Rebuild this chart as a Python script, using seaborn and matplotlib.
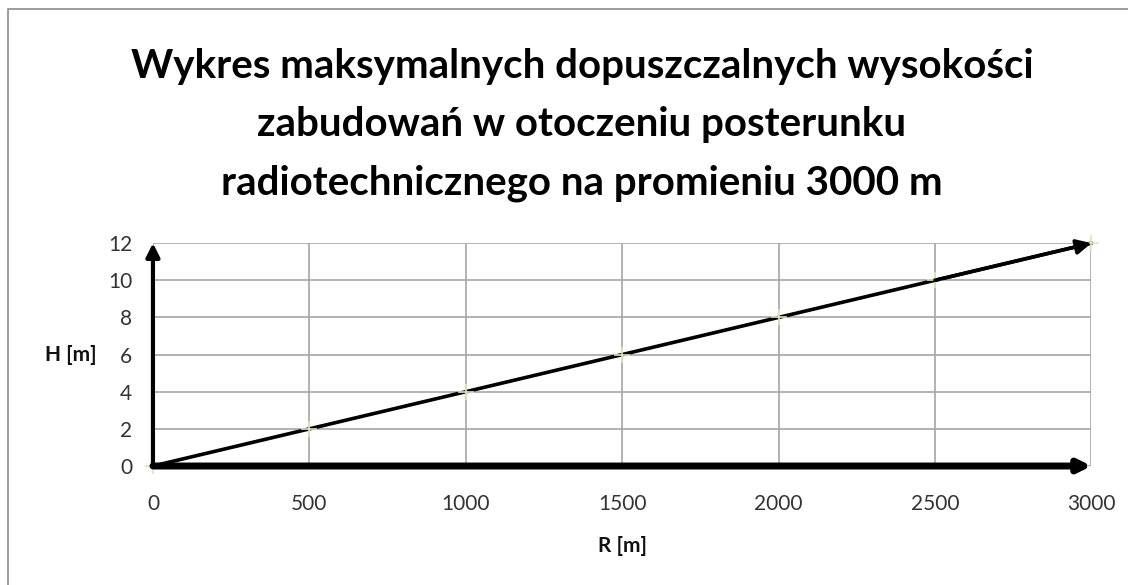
import matplotlib
matplotlib.use('Agg')
import matplotlib.pyplot as plt
import seaborn as sns
import pandas as pd
from matplotlib.patches import Rectangle

# Data
r_values = [0, 500, 1000, 1500, 2000, 2500, 3000]
h_values = [0, 2, 4, 6, 8, 10, 12]
x_ticks = [0, 500, 1000, 1500, 2000, 2500, 3000]
y_ticks = [0, 2, 4, 6, 8, 10, 12]
title = ('Wykres maksymalnych dopuszczalnych wysokości\n'
         'zabudowań w otoczeniu posterunku\n'
         'radiotechnicznego na promieniu 3000 m')

df = pd.DataFrame({'R': r_values, 'H': h_values})

sns.set_theme(style='white')
plt.rcParams['font.family'] = ['Lato', 'DejaVu Sans']

fig = plt.figure(figsize=(11.28, 5.85), dpi=100)
ax = fig.add_axes([0.1356, 0.2034, 0.832, 0.381])

# Outer chart border (left and top visible)
fig.patches.append(Rectangle((8 / 1128, -0.1), 1.2, 1 - 9 / 585 + 0.1,
                             transform=fig.transFigure, fill=False,
                             edgecolor='#8c8c8c', lw=1.2))

sns.lineplot(data=df, x='R', y='H', ax=ax, color='black', lw=2.6,
             marker='+', markersize=12, markeredgecolor='#d8e8c0',
             markeredgewidth=1.2, clip_on=False, zorder=4)
# Arrowhead on the line end
ax.annotate('', xy=(r_values[-1], h_values[-1]),
            xytext=(r_values[-2], h_values[-2]),
            arrowprops=dict(arrowstyle='-|>', color='black', lw=2.6,
                            mutation_scale=22, shrinkA=0, shrinkB=0),
            zorder=5)

# Axis arrows
ax.annotate('', xy=(x_ticks[-1], 0), xytext=(0, 0),
            arrowprops=dict(arrowstyle='-|>', color='black', lw=5,
                            mutation_scale=18, shrinkA=0, shrinkB=0),
            annotation_clip=False, zorder=6)
ax.annotate('', xy=(0, y_ticks[-1]), xytext=(0, 0),
            arrowprops=dict(arrowstyle='-|>', color='black', lw=3,
                            mutation_scale=20, shrinkA=0, shrinkB=0),
            annotation_clip=False, zorder=6)

ax.set_xlim(0, 3000)
ax.set_ylim(0, 12)
ax.set_xticks(x_ticks)
ax.set_yticks(y_ticks)
ax.grid(True, color='#a6a6a6', lw=1.2)
for s in ax.spines.values():
    s.set_visible(False)
ax.tick_params(axis='both', labelsize=15, length=6, width=2.5,
               direction='out', color='black', labelcolor='#333333')
ax.tick_params(axis='x', pad=14)
ax.tick_params(axis='y', pad=9)

ax.set_xlabel('R [m]', fontsize=15, fontweight='bold', labelpad=16,
              color='#111111')
ax.set_ylabel('H [m]', fontsize=15, fontweight='bold', rotation=0,
              color='#111111', ha='center', va='center')
ax.yaxis.set_label_coords(-0.088, 0.5)

fig.text(0.516, 1 - 125 / 585, title, ha='center', va='center',
         fontsize=29, fontweight='bold', linespacing=1.7, color='black')

fig.savefig('out.png', dpi=100, facecolor='white')
